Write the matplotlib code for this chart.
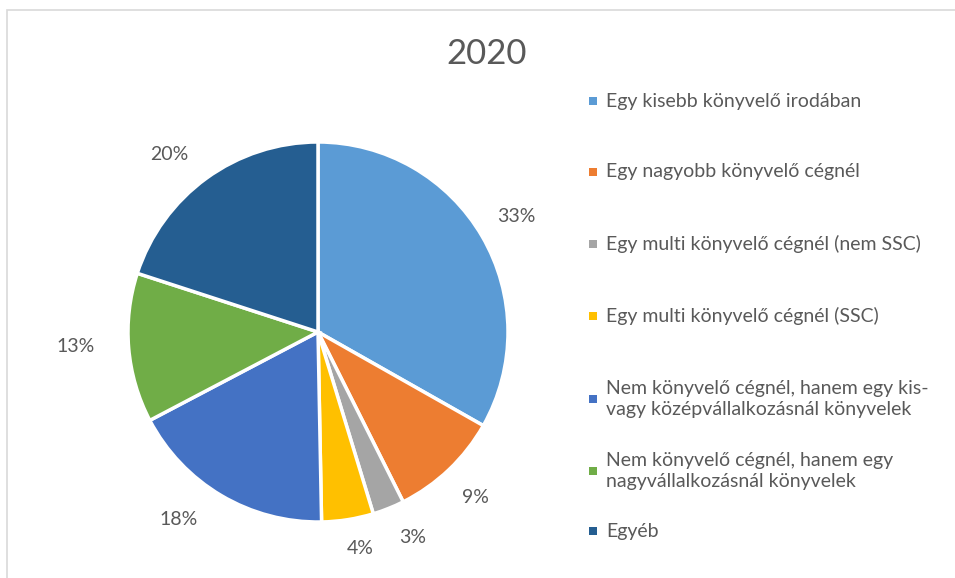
import numpy as np
import matplotlib.pyplot as plt
from matplotlib.patches import Rectangle

plt.rcParams['font.family'] = ['Lato', 'DejaVu Sans']

#============================================
title = "2020"
categories = [
    "Egy kisebb könyvelő irodában",
    "Egy nagyobb könyvelő cégnél",
    "Egy multi könyvelő cégnél (nem SSC)",
    "Egy multi könyvelő cégnél (SSC)",
    "Nem könyvelő cégnél, hanem egy kis-\nvagy középvállalkozásnál könyvelek",
    "Nem könyvelő cégnél, hanem egy\nnagyvállalkozásnál könyvelek",
    "Egyéb",
]
shares = [33.2, 9.4, 2.7, 4.4, 17.6, 12.7, 20.0]
colors = ["#5B9BD5", "#ED7D31", "#A5A5A5", "#FFC000", "#4472C4", "#70AD47", "#255E91"]
text_color = "#595959"
#============================================

# label placement (excel "best fit" look): radial distance and angle nudge per slice
label_dist = [1.21, 1.2, 1.19, 1.16, 1.23, 1.28, 1.22]
label_nudge = [0, 0, -3, -2, 6, 1.5, -4]

W, H = 955, 578
fig = plt.figure(figsize=(W / 100, H / 100), dpi=100)

# chart border
fig.patches.append(Rectangle((7 / W, -0.1), 1.1, (H - 10) / H + 0.1, transform=fig.transFigure,
                             fill=False, edgecolor="#D9D9D9", linewidth=1.2))

# pie axes: center (318, 332), radius 190 px
cx, cy, r = 318, 332, 190
ax = fig.add_axes([(cx - r) / W, (H - cy - r) / H, 2 * r / W, 2 * r / H])
wedges, texts = ax.pie(
    shares, colors=colors, startangle=90, counterclock=False,
    wedgeprops=dict(edgecolor="white", linewidth=2.5))
ax.set_xlim(-1, 1)
ax.set_ylim(-1, 1)
ax.set_aspect("equal")
ax.axis("off")

total = sum(shares)
for i, w in enumerate(wedges):
    ang = np.deg2rad((w.theta1 + w.theta2) / 2 - label_nudge[i])
    d = label_dist[i]
    ax.text(d * np.cos(ang), d * np.sin(ang), "%d%%" % round(100 * shares[i] / total),
            ha="center", va="center", fontsize=14, color=text_color)

fig.text(487 / W, 1 - 54 / H, title, ha="center", va="center", fontsize=25, color=text_color)

# legend
leg_y = [101, 172, 244, 316, 399, 471, 531]
for i in range(len(categories)):
    y = leg_y[i]
    fig.patches.append(Rectangle(((593 - 4) / W, 1 - (y + 4) / H), 8 / W, 8 / H,
                                 transform=fig.transFigure, facecolor=colors[i], edgecolor="none"))
    fig.text(606 / W, 1 - y / H, categories[i], ha="left", va="center", fontsize=14,
             color=text_color, linespacing=1.35)

fig.savefig("out.png", dpi=100)
